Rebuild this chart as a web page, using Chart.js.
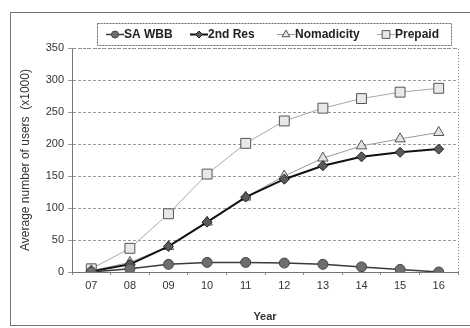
<!DOCTYPE html>
<html>
<head>
<meta charset="utf-8">
<script src="https://cdn.jsdelivr.net/npm/chart.js@4.4.1/dist/chart.umd.min.js"></script>
<style>
  html, body { margin: 0; padding: 0; background: #fff; }
  #wrap { width: 470px; height: 328px; position: relative; }
</style>
</head>
<body>
<div id="wrap"><canvas id="grafico" width="470" height="328"></canvas></div>
<script>
// dados (x1000 usuarios)
const anos = ['07', '08', '09', '10', '11', '12', '13', '14', '15', '16'];
const saWbb = [0, 5, 12, 15, 15, 14, 12, 8, 4, 0];
const segundaRes = [1, 12, 40, 78, 117, 145, 166, 180, 187, 192];
const nomadicity = [2, 15, 40, 78, 117, 150, 178, 197, 208, 218];
const prepaid = [5, 37, 91, 153, 201, 236, 256, 271, 281, 287];
const yTicks = [0, 50, 100, 150, 200, 250, 300, 350];

const fonte = '"Liberation Sans", Arial, sans-serif';

const series = [
    { label: 'SA WBB', data: saWbb, borderColor: '#3a3a3a', borderWidth: 1.5, pointStyle: 'circle', pointRadius: 5, pointBackgroundColor: '#6e6e6e', pointBorderColor: '#444' },
    { label: '2nd Res', data: segundaRes, borderColor: '#111', borderWidth: 2, pointStyle: 'rectRot', pointRadius: 5, pointBackgroundColor: '#5a5a5a', pointBorderColor: '#222' },
    { label: 'Nomadicity', data: nomadicity, borderColor: '#9a9a9a', borderWidth: 1, pointStyle: 'triangle', pointRadius: 6, pointBackgroundColor: '#e2e2e2', pointBorderColor: '#555' },
    { label: 'Prepaid', data: prepaid, borderColor: '#a8a8a8', borderWidth: 1, pointStyle: 'rect', pointRadius: 7, pointBackgroundColor: '#e8e8e8', pointBorderColor: '#555' }
];

// moldura, legenda com caixa e borda pontilhada da area do grafico
const extras = {
    id: 'extras',
    afterDraw(chart) {
        const ctx = chart.ctx;
        const area = chart.chartArea;
        ctx.save();
        // moldura externa
        ctx.strokeStyle = '#777';
        ctx.lineWidth = 1;
        ctx.strokeRect(10.5, 12.5, 470, 313);
        // borda pontilhada topo/direita
        ctx.setLineDash([1, 2]);
        ctx.strokeStyle = '#888';
        ctx.beginPath();
        ctx.moveTo(area.left, area.top + 0.5);
        ctx.lineTo(area.right + 0.5, area.top + 0.5);
        ctx.lineTo(area.right + 0.5, area.bottom);
        ctx.stroke();
        // caixa da legenda
        ctx.setLineDash([2, 1]);
        ctx.strokeStyle = '#666';
        ctx.strokeRect(97.5, 23.5, 354, 22);
        ctx.setLineDash([]);
        const xs = [115, 199, 286, 386];
        const yc = 34.5;
        ctx.font = 'bold 12px ' + fonte;
        ctx.textBaseline = 'middle';
        series.forEach((s, i) => {
            ctx.strokeStyle = s.borderColor;
            ctx.lineWidth = s.borderWidth;
            ctx.beginPath();
            ctx.moveTo(xs[i] - 9, yc);
            ctx.lineTo(xs[i] + 9, yc);
            ctx.stroke();
            ctx.fillStyle = s.pointBackgroundColor;
            ctx.strokeStyle = s.pointBorderColor;
            ctx.lineWidth = 1;
            Chart.helpers.drawPoint(ctx, { pointStyle: s.pointStyle, radius: s.pointRadius - 1.5, rotation: 0, borderWidth: 1 }, xs[i], yc);
            ctx.fillStyle = '#222';
            ctx.fillText(s.label, xs[i] + 9, yc);
        });
        ctx.restore();
    }
};

const ctx = document.getElementById('grafico').getContext('2d');
const grafico = new Chart(ctx, {
    type: 'line',
    data: {
        labels: anos,
        datasets: series.map(s => Object.assign({ fill: false, tension: 0, pointBorderWidth: 1 }, s))
    },
    options: {
        responsive: false,
        animation: false,
        layout: { padding: { top: 48, right: 12, left: 18, bottom: 0 } },
        plugins: { legend: { display: false }, tooltip: { enabled: false } },
        scales: {
            x: {
                offset: true,
                grid: { drawOnChartArea: false, offset: true, tickLength: 3, color: '#888' },
                border: { color: '#777', width: 1, dash: [] },
                ticks: { color: '#333', font: { family: fonte, size: 11 }, padding: 4 },
                title: { display: true, text: 'Year', color: '#333', font: { family: fonte, size: 11, weight: 'bold' }, padding: { top: 4 } },
                afterFit(scale) { scale.height = 56; }
            },
            y: {
                min: 0,
                max: 350,
                afterBuildTicks(scale) { scale.ticks = yTicks.map(v => ({ value: v })); },
                grid: { color: '#999', tickLength: 4, lineWidth: 1 },
                border: { color: '#777', dash: [3, 2] },
                ticks: { color: '#333', font: { family: fonte, size: 11 }, padding: 4 },
                title: { display: true, text: 'Average number of users  (x1000)', color: '#333', font: { family: fonte, size: 12 }, padding: 0 },
                afterFit(scale) { scale.width = 54; }
            }
        }
    },
    plugins: [extras]
});
</script>
</body>
</html>
